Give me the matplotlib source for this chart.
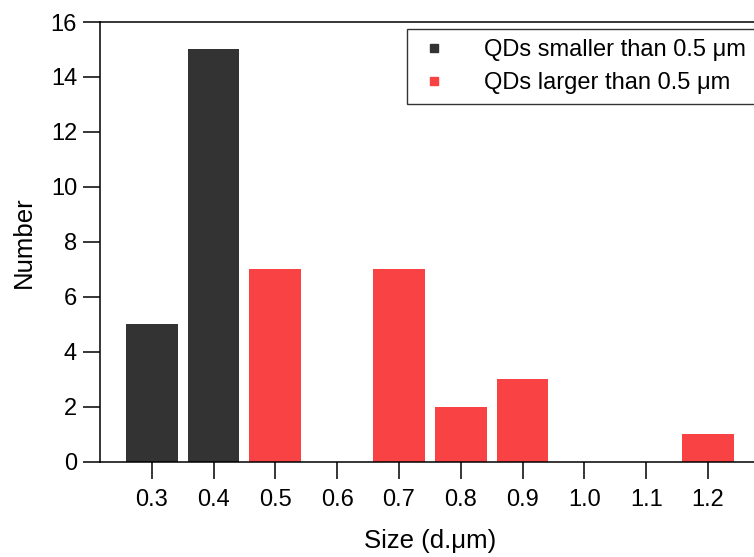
import numpy as np
import matplotlib.pyplot as plt
from matplotlib.lines import Line2D

plt.rcParams['font.family'] = ['Liberation Sans', 'DejaVu Sans']

sizes = ['0.3', '0.4', '0.5', '0.6', '0.7', '0.8', '0.9', '1.0', '1.1', '1.2']
counts = [5, 15, 7, 0, 7, 2, 3, 0, 0, 1]
small_mask = [True, True, False, False, False, False, False, False, False, False]
labels = ['QDs smaller than 0.5 \u03bcm', 'QDs larger than 0.5 \u03bcm']

dark = '#333333'
red = '#F94244'

fig = plt.figure(figsize=(7.54, 5.57), dpi=100)
ax = fig.add_axes([0.1326, 0.1706, 0.875, 0.7899])

x = np.arange(len(sizes))
counts = np.array(counts)
small_mask = np.array(small_mask)
ax.bar(x[small_mask], counts[small_mask], width=0.836, color=dark)
ax.bar(x[~small_mask], counts[~small_mask], width=0.836, color=red)

ax.set_xlim(-0.837, 9.837)
ax.set_ylim(0, 16)
ax.set_yticks(np.arange(0, 17, 2))
ax.set_xticks(x)
ax.set_xticklabels(sizes)

for s in ax.spines.values():
    s.set_linewidth(1.1)
ax.tick_params(axis='both', length=12.5, width=1.1, labelsize=17, pad=4)
ax.tick_params(axis='x', pad=7)

ax.set_xlabel('Size (d.\u03bcm)', fontsize=18.5, labelpad=13)
ax.set_ylabel('Number', fontsize=18.5, labelpad=11)

# small square markers, like the original legend
handles = [Line2D([], [], ls='none', marker='s', markersize=6, color=c) for c in (dark, red)]
leg = ax.legend(handles, labels, loc='upper left', bbox_to_anchor=(0.465, 0.985),
                fontsize=17, frameon=True, fancybox=False, edgecolor='black',
                handlelength=1.44, handletextpad=1.4,
                borderpad=0.45, labelspacing=0.45, borderaxespad=0)
leg.get_frame().set_linewidth(1.0)

fig.savefig('out.png', dpi=100)
